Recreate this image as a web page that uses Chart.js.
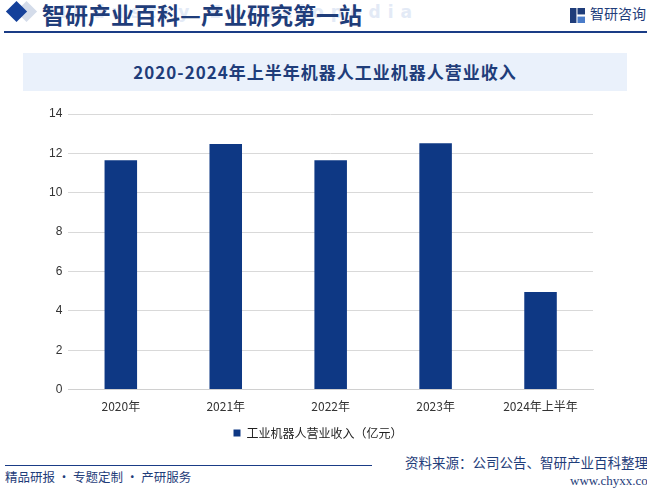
<!DOCTYPE html>
<html>
<head>
<meta charset="utf-8">
<script src="https://cdn.jsdelivr.net/npm/chart.js@4"></script>
<style>
    body { margin: 0; width: 647px; height: 488px; background: #fff; position: relative; overflow: hidden; font-family: "Noto Sans CJK SC", sans-serif; }
    .abs { position: absolute; }
    #logoDiamond1 { left: 9px; top: 4px; width: 15px; height: 15px; background: #14409a; transform: rotate(45deg); }
    #logoDiamond2 { left: 19px; top: 4px; width: 15px; height: 15px; background: #d4dcea; transform: rotate(45deg); }
    #siteTitle { left: 42px; top: -3px; font-size: 23px; font-weight: bold; color: #1f3d7a; white-space: nowrap; }
    #watermark { left: 60px; top: 2px; font-size: 17px; color: #e3eaf6; letter-spacing: 7px; font-family: "DejaVu Sans"; font-weight: bold; white-space: nowrap; }
    #topLine { left: 4px; top: 31px; width: 643px; height: 2px; background: #1a3c86; }
    #brand { left: 590px; top: 3px; font-size: 14px; color: #1f3d7a; white-space: nowrap; }
    #brandIcon { left: 570px; top: 8px; width: 15px; height: 15px; }
    #titleBox { left: 23px; top: 53px; width: 604px; height: 38px; background: #eaf1fb; }
    #chartTitle { left: 23px; top: 53px; width: 604px; line-height: 38px; text-align: center; font-size: 17px; letter-spacing: 1px; font-weight: bold; color: #1f3d7a; }
    #chartWrap { left: 0; top: 95px; width: 647px; height: 354px; }
    #bottomLine { left: 5px; top: 465px; width: 367px; height: 1px; background: #1a3c86; }
    #footLeft { left: 5px; top: 467px; font-size: 12.5px; color: #1f3d7a; white-space: nowrap; }
    #footSource { left: 405px; top: 452px; font-size: 13.5px; color: #1f3d7a; white-space: nowrap; }
    #footUrl { left: 570px; top: 473px; font-size: 13px; color: #1f3d7a; font-family: "Liberation Serif"; white-space: nowrap; }
</style>
</head>
<body>
<div class="abs" id="logoDiamond2"></div>
<div class="abs" id="logoDiamond1"></div>
<div class="abs" id="watermark">Industry Encyclopedia</div>
<div class="abs" id="siteTitle">智研产业百科—产业研究第一站</div>
<div class="abs" id="topLine"></div>
<svg class="abs" id="brandIcon" viewBox="0 0 14 14">
    <rect x="0" y="0" width="6" height="14" fill="#1f3d7a"/>
    <rect x="7" y="0" width="7" height="6" fill="#1f3d7a"/>
    <rect x="7" y="8" width="7" height="6" fill="#4a7cc9"/>
</svg>
<div class="abs" id="brand">智研咨询</div>
<div class="abs" id="titleBox"></div>
<div class="abs" id="chartTitle">2020-2024年上半年机器人工业机器人营业收入</div>
<div class="abs" id="chartWrap"><canvas id="revenueChart" width="647" height="354"></canvas></div>
<div class="abs" id="bottomLine"></div>
<div class="abs" id="footLeft">精品研报 · 专题定制 · 产研服务</div>
<div class="abs" id="footSource">资料来源：公司公告、智研产业百科整理</div>
<div class="abs" id="footUrl">www.chyxx.com</div>

<script>
// 카테고리 / 값
const years = ['2020年', '2021年', '2022年', '2023年', '2024年上半年'];
const revenue = [11.65, 12.47, 11.65, 12.52, 4.96];
const yTicks = [0, 2, 4, 6, 8, 10, 12, 14];

const BAR_COLOR = '#0e3884';

new Chart(document.getElementById('revenueChart'), {
    type: 'bar',
    data: {
        labels: years,
        datasets: [{
            label: '工业机器人营业收入（亿元）',
            data: revenue,
            backgroundColor: BAR_COLOR,
            barPercentage: 0.31,
            categoryPercentage: 1.0
        }]
    },
    options: {
        responsive: false,
        animation: false,
        layout: { padding: { left: 43, right: 54, top: 19, bottom: 0 } },
        plugins: {
            legend: {
                position: 'bottom',
                labels: {
                    color: '#222',
                    font: { size: 12, family: 'Noto Sans CJK SC' },
                    boxWidth: 7,
                    boxHeight: 7,
                    padding: 11
                }
            },
            tooltip: { enabled: false }
        },
        scales: {
            x: {
                grid: { display: false },
                border: { color: '#d0d0d0' },
                ticks: { color: '#333', font: { size: 12, family: 'Noto Sans CJK SC' }, padding: 2 }
            },
            y: {
                min: 0,
                max: 14,
                afterBuildTicks: axis => { axis.ticks = yTicks.map(v => ({ value: v })); },
                grid: { color: '#d9d9d9', drawTicks: false },
                border: { display: false },
                ticks: { color: '#333', font: { size: 12, family: 'Liberation Sans' }, padding: 6 }
            }
        }
    }
});
</script>
</body>
</html>
